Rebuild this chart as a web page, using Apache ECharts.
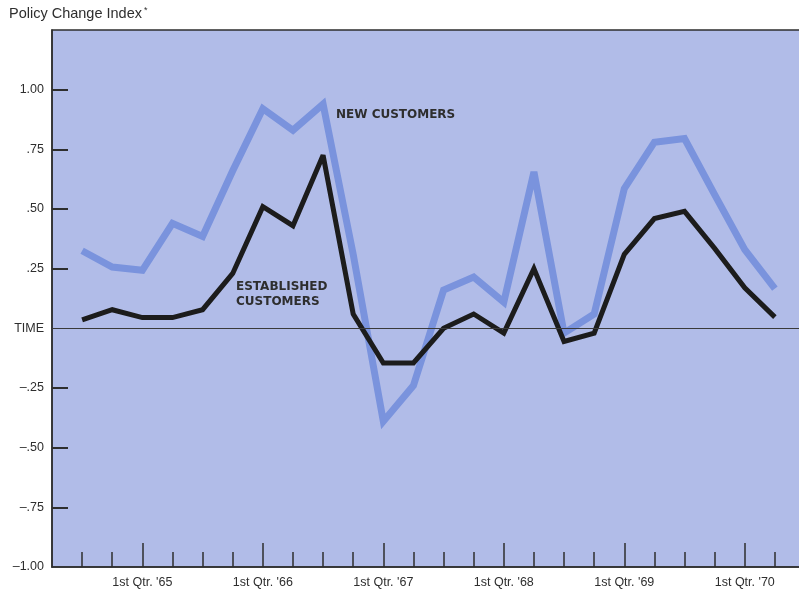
<!DOCTYPE html>
<html>
<head>
<meta charset="utf-8">
<title>Policy Change Index</title>
<script src="https://cdn.jsdelivr.net/npm/echarts@6/dist/echarts.min.js"></script>
<style>
  html, body { margin: 0; padding: 0; background: #ffffff; }
  #chart { width: 799px; height: 594px; }
</style>
</head>
<body>
<div id="chart"></div>
<script>
// Quarterly index, 3rd qtr. 1964 through 2nd qtr. 1970 (x = quarter number)
const quarters = [0, 1, 2, 3, 4, 5, 6, 7, 8, 9, 10, 11, 12, 13, 14, 15, 16, 17, 18, 19, 20, 21, 22, 23];
const newCustomers = [0.325, 0.257, 0.243, 0.44, 0.385, 0.66, 0.92, 0.83, 0.94, 0.31, -0.39, -0.24,
                      0.16, 0.215, 0.11, 0.655, -0.02, 0.06, 0.585, 0.78, 0.795, 0.56, 0.33, 0.166];
const establishedCustomers = [0.035, 0.078, 0.045, 0.045, 0.078, 0.23, 0.51, 0.43, 0.725, 0.06, -0.145, -0.145,
                              0.0, 0.06, -0.02, 0.25, -0.055, -0.02, 0.31, 0.46, 0.49, 0.335, 0.17, 0.047];

// First quarter of each year: tick positions and their labels
const yearTicks = [2, 6, 10, 14, 18, 22];
const yearLabels = ["1st Qtr. '65", "1st Qtr. '66", "1st Qtr. '67", "1st Qtr. '68", "1st Qtr. '69", "1st Qtr. '70"];

// Index scale labels
const yTickValues = [-1, -0.75, -0.5, -0.25, 0, 0.25, 0.5, 0.75, 1];
const yTickLabels = ["\u20131.00", "\u2013.75", "\u2013.50", "\u2013.25", "TIME", ".25", ".50", ".75", "1.00"];

const FONT = "'Liberation Sans', Arial, sans-serif";
const INK = '#2e2e2e';
const PANEL = '#b1bce8';
const BLUE = '#7a93dd';

const chart = echarts.init(document.getElementById('chart'), null, { renderer: 'canvas' });

const pairs = (ys) => quarters.map((q, i) => [q, ys[i]]);

chart.setOption({
  animation: false,
  backgroundColor: '#ffffff',
  grid: {
    left: 52, top: 30, width: 753, bottom: 27,
    outerBoundsMode: 'none', containLabel: false,
    show: true, backgroundColor: PANEL, borderColor: INK, borderWidth: 1.5
  },
  xAxis: [
    {
      type: 'value', min: -1, max: 24, interval: 1,
      axisLine: { show: true, onZero: false, lineStyle: { color: INK, width: 1.5 } },
      axisTick: { show: true, inside: true, length: 15, customValues: quarters,
                  lineStyle: { color: INK, width: 1.5 } },
      axisLabel: { show: false },
      splitLine: { show: false }
    },
    {
      type: 'value', min: -1, max: 24, interval: 1, position: 'bottom',
      axisLine: { show: false, onZero: false },
      axisTick: { show: true, inside: true, length: 24, customValues: yearTicks,
                  lineStyle: { color: INK, width: 1.5 } },
      axisLabel: {
        show: true, customValues: yearTicks, margin: 9,
        color: INK, fontFamily: FONT, fontSize: 12.5,
        formatter: (v) => yearLabels[yearTicks.indexOf(v)]
      },
      splitLine: { show: false }
    }
  ],
  yAxis: {
    type: 'value', min: -1, max: 1.25, interval: 0.25,
    axisLine: { show: true, onZero: false, lineStyle: { color: INK, width: 1.5 } },
    axisTick: { show: true, inside: true, length: 16,
                customValues: [-0.75, -0.5, -0.25, 0.25, 0.5, 0.75, 1],
                lineStyle: { color: INK, width: 2 } },
    axisLabel: {
      show: true, customValues: yTickValues, margin: 8,
      color: INK, fontFamily: FONT, fontSize: 12.5,
      formatter: (v) => {
        const i = yTickValues.findIndex((t) => Math.abs(t - v) < 1e-9);
        return i >= 0 ? yTickLabels[i] : '';
      }
    },
    splitLine: { show: false }
  },
  graphic: [
    {
      type: 'text', left: 9, top: 6,
      style: {
        text: '{t|Policy Change Index}{s|*}',
        rich: {
          t: { fontFamily: FONT, fontSize: 14.5, fill: INK, fontWeight: 500 },
          s: { fontFamily: FONT, fontSize: 9, fill: INK, verticalAlign: 'top', padding: [0, 0, 6, 2] }
        }
      }
    },
    {
      type: 'text', left: 336, top: 109, z: 10,
      style: { text: 'NEW CUSTOMERS', fontFamily: "'DejaVu Sans', sans-serif", fontWeight: 'bold',
               fontSize: 12, fill: INK }
    },
    {
      type: 'text', left: 236, top: 280, z: 10,
      style: { text: 'ESTABLISHED\nCUSTOMERS', fontFamily: "'DejaVu Sans', sans-serif", fontWeight: 'bold',
               fontSize: 12, lineHeight: 14.5, fill: INK }
    }
  ],
  series: [
    {
      name: 'time axis', type: 'line', data: [], z: 1, silent: true,
      markLine: {
        silent: true, symbol: 'none', label: { show: false },
        lineStyle: { color: '#3a3a3a', width: 1, type: 'solid' },
        data: [{ yAxis: 0 }]
      }
    },
    {
      name: 'New customers', type: 'line', data: pairs(newCustomers), z: 2,
      showSymbol: false, symbol: 'none',
      lineStyle: { color: BLUE, width: 7, join: 'miter', miterLimit: 3 }
    },
    {
      name: 'Established customers', type: 'line', data: pairs(establishedCustomers), z: 3,
      showSymbol: false, symbol: 'none',
      lineStyle: { color: '#1c1c1c', width: 5, join: 'miter', miterLimit: 3 }
    }
  ]
});
</script>
</body>
</html>
